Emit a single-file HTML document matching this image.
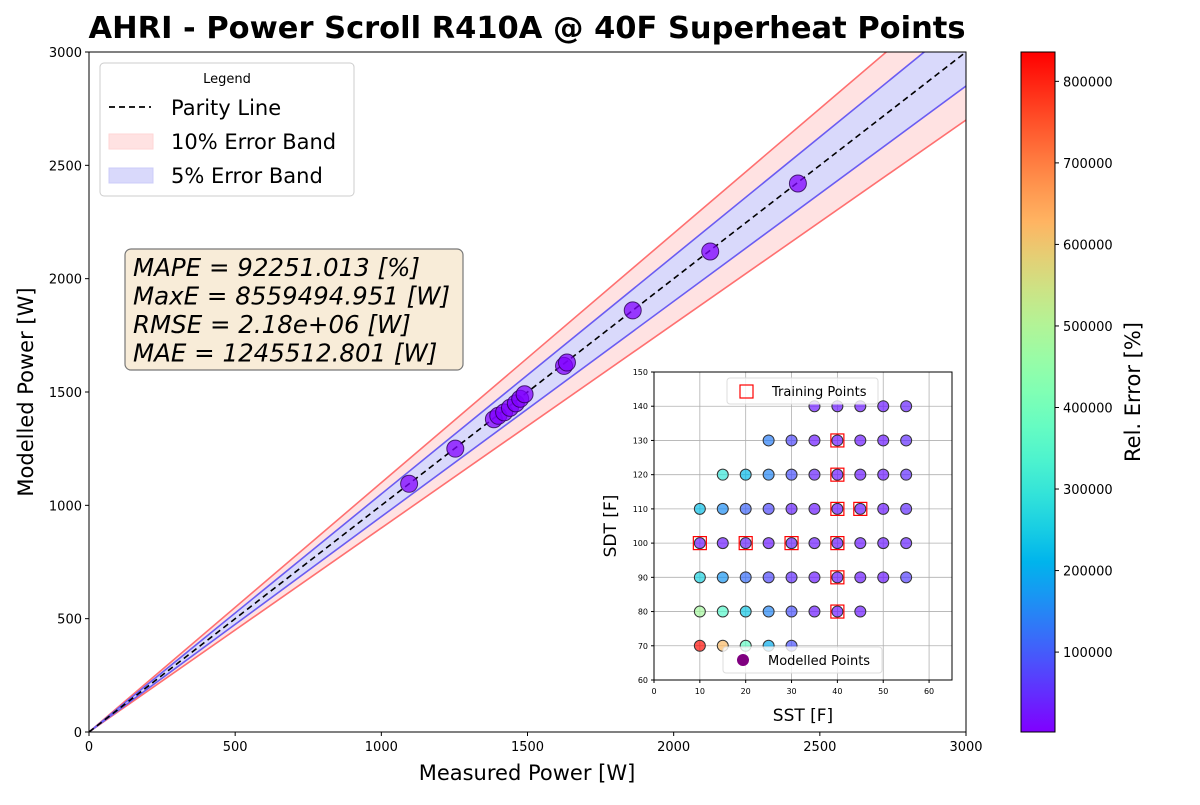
<!DOCTYPE html>
<html><head><meta charset="utf-8"><style>
body{margin:0;background:#fff}
svg{font-family:"DejaVu Sans","Liberation Sans",sans-serif}
</style></head><body>
<svg id="c" width="1200" height="800" xmlns="http://www.w3.org/2000/svg"></svg>
<script>
const measured=[1095,1253,1385,1400,1420,1440,1460,1475,1490,1625,1635,1860,2125,2425];
const modelled=[1095,1250,1380,1395,1410,1430,1450,1470,1490,1615,1630,1860,2120,2420];
const mainTicks=[0,500,1000,1500,2000,2500,3000];
const gridSST=[35,40,45,50,55, 25,30,35,40,45,50,55, 15,20,25,30,35,40,45,50,55, 10,15,20,25,30,35,40,45,50,55, 10,15,20,25,30,35,40,45,50,55, 10,15,20,25,30,35,40,45,50,55, 10,15,20,25,30,35,40,45, 10,15,20,25,30];
const gridSDT=[140,140,140,140,140, 130,130,130,130,130,130,130, 120,120,120,120,120,120,120,120,120, 110,110,110,110,110,110,110,110,110,110, 100,100,100,100,100,100,100,100,100,100, 90,90,90,90,90,90,90,90,90,90, 80,80,80,80,80,80,80,80, 70,70,70,70,70];
const relErr=[30000,30000,30000,30000,40000, 140000,80000,30000,30000,30000,30000,50000, 300000,220000,150000,90000,40000,30000,30000,30000,50000, 230000,160000,110000,80000,40000,30000,30000,30000,30000,50000, 30000,30000,40000,30000,40000,30000,30000,30000,30000,40000, 260000,170000,120000,80000,50000,30000,30000,30000,30000,70000, 480000,350000,240000,150000,90000,30000,30000,30000, 820000,620000,370000,200000,90000];
const trainSST=[40,40,40,45,10,20,30,40,40,40];
const trainSDT=[130,120,110,110,100,100,100,100,90,80];
const cbTicks=[100000,200000,300000,400000,500000,600000,700000,800000];
const insetXTicks=[0,10,20,30,40,50,60];
const insetYTicks=[60,70,80,90,100,110,120,130,140,150];
const vmin=2000,vmax=836000;

const S=document.getElementById('c');const NS='http://www.w3.org/2000/svg';
function mk(t,a,p){const e=document.createElementNS(NS,t);for(const k in a)e.setAttribute(k,a[k]);(p||S).appendChild(e);return e;}
function tx(x,y,s,a,p){const e=mk('text',Object.assign({x:x,y:y},a),p);e.textContent=s;return e;}
function rainbow(v){let x=(v-vmin)/(vmax-vmin);x=Math.max(0,Math.min(1,x));
 const r=Math.min(1,Math.abs(2*x-0.5)),g=Math.sin(Math.PI*x),b=Math.cos(Math.PI*x/2);
 return `rgb(${Math.round(r*255)},${Math.round(g*255)},${Math.round(b*255)})`;}
const X0=89,X1=966,Y0=732,Y1=52;
const mx=v=>X0+(X1-X0)*v/3000, my=v=>Y0-(Y0-Y1)*v/3000;

let e=tx(527,38,'AHRI - Power Scroll R410A @ 40F Superheat Points',{'font-size':30.5,'font-weight':'bold','text-anchor':'middle','textLength':877,'lengthAdjust':'spacingAndGlyphs'});

const defs=mk('defs',{});const cp=mk('clipPath',{id:'pc'},defs);mk('rect',{x:X0,y:Y1,width:X1-X0,height:Y0-Y1},cp);
const g=mk('g',{'clip-path':'url(#pc)'});
const strip=(f1,f2,fill,name)=>{e=mk('polygon',{points:`${mx(0)},${my(0)} ${mx(3000)},${my(3000*(1+f1))} ${mx(3000)},${my(3000*(1+f2))}`,fill:fill},g);
 };
strip(0.1,0.05,'#ffe2e2','error-band-10-upper');
strip(-0.05,-0.1,'#ffe2e2','error-band-10-lower');
strip(0.05,-0.05,'#d9d9fb','error-band-5');
[[0.1,'#ff7070'],[-0.1,'#ff7070'],[0.05,'#6a5cf2'],[-0.05,'#6a5cf2']].forEach(([f,c])=>{
 e=mk('line',{x1:mx(0),y1:my(0),x2:mx(3000),y2:my(3000*(1+f)),stroke:c,'stroke-width':1.6},g);
 });
e=mk('line',{x1:mx(0),y1:my(0),x2:mx(3000),y2:my(3000),stroke:'#000','stroke-width':1.6,'stroke-dasharray':'6,4'},g);

measured.forEach((m,i)=>{e=mk('circle',{cx:mx(m),cy:my(modelled[i]),r:8.5,fill:'rgba(128,0,255,0.75)',stroke:'rgba(40,0,80,0.8)','stroke-width':1},g);
 });
mk('rect',{x:X0,y:Y1,width:X1-X0,height:Y0-Y1,fill:'none',stroke:'#000','stroke-width':1});
mainTicks.forEach(t=>{mk('line',{x1:mx(t),x2:mx(t),y1:Y0,y2:Y0+4,stroke:'#000'});
 e=tx(mx(t),Y0+19,t,{'font-size':13,'text-anchor':'middle'});
 mk('line',{x1:X0-4,x2:X0,y1:my(t),y2:my(t),stroke:'#000'});
 e=tx(X0-7,my(t)+5,t,{'font-size':13,'text-anchor':'end'});});
e=tx(527,780,'Measured Power [W]',{'font-size':21,'text-anchor':'middle'});
e=tx(33,392,'Modelled Power [W]',{'font-size':21,'text-anchor':'middle',transform:'rotate(-90 33 392)'});

const L=mk('g',{});
mk('rect',{x:100,y:63,width:254,height:133,rx:4,fill:'#fff',stroke:'#ccc'},L);
tx(227,83,'Legend',{'font-size':13,'text-anchor':'middle'},L);
mk('line',{x1:109,x2:151,y1:107,y2:107,stroke:'#000','stroke-width':1.8,'stroke-dasharray':'6,4'},L);
tx(171,115,'Parity Line',{'font-size':21},L);
mk('rect',{x:109,y:134,width:44,height:15,fill:'#ffe2e2',stroke:'#ffd6d6'},L);
tx(171,149,'10% Error Band',{'font-size':21},L);
mk('rect',{x:109,y:168,width:44,height:15,fill:'#d9d9fb',stroke:'#ccccf8'},L);
tx(171,183,'5% Error Band',{'font-size':21},L);

const B=mk('g',{});
mk('rect',{x:125,y:249,width:338,height:121,rx:6,fill:'#f8ecd8',stroke:'#777','stroke-width':1.2},B);
['MAPE = 92251.013 [%]','MaxE = 8559494.951 [W]','RMSE = 2.18e+06 [W]','MAE = 1245512.801 [W]'].forEach((s,i)=>
 tx(133,276+i*28.5,s,{'font-size':24.5,'font-style':'italic'},B));

const IX0=654,IX1=952,IY0=680,IY1=372;
const ix=v=>IX0+(IX1-IX0)*v/65, iy=v=>IY0-(IY0-IY1)*(v-60)/90;
const I=mk('g',{});
mk('rect',{x:IX0,y:IY1,width:IX1-IX0,height:IY0-IY1,fill:'#fff'},I);
insetXTicks.forEach(t=>{mk('line',{x1:ix(t),x2:ix(t),y1:IY1,y2:IY0,stroke:'#b0b0b0','stroke-width':0.8},I);
 mk('line',{x1:ix(t),x2:ix(t),y1:IY0,y2:IY0+3,stroke:'#000'},I);
 tx(ix(t),IY0+14,t,{'font-size':8,'text-anchor':'middle'},I);});
insetYTicks.forEach(t=>{mk('line',{x1:IX0,x2:IX1,y1:iy(t),y2:iy(t),stroke:'#b0b0b0','stroke-width':0.8},I);
 mk('line',{x1:IX0-3,x2:IX0,y1:iy(t),y2:iy(t),stroke:'#000'},I);
 tx(IX0-6,iy(t)+3,t,{'font-size':8,'text-anchor':'end'},I);});
gridSST.forEach((s,i)=>{e=mk('circle',{cx:ix(s),cy:iy(gridSDT[i]),r:5.5,fill:rainbow(relErr[i]),'fill-opacity':0.7,stroke:'#333','stroke-width':1},I);
 });
trainSST.forEach((s,i)=>{e=mk('rect',{x:ix(s)-6.5,y:iy(trainSDT[i])-6.5,width:13,height:13,fill:'none',stroke:'red','stroke-width':1.2},I);
 });
mk('rect',{x:IX0,y:IY1,width:IX1-IX0,height:IY0-IY1,fill:'none',stroke:'#000'},I);
mk('rect',{x:727,y:378,width:151,height:26,rx:3,fill:'rgba(255,255,255,0.8)',stroke:'#ddd'},I);
mk('rect',{x:740,y:385,width:13,height:13,fill:'none',stroke:'red','stroke-width':1.2},I);
tx(772,396,'Training Points',{'font-size':13},I);
mk('rect',{x:723,y:647,width:159,height:26,rx:3,fill:'rgba(255,255,255,0.8)',stroke:'#ddd'},I);
mk('circle',{cx:743,cy:660,r:6,fill:'#800080'},I);
tx(768,665,'Modelled Points',{'font-size':13},I);
tx(803,721,'SST [F]',{'font-size':17,'text-anchor':'middle'},I);
tx(616,526,'SDT [F]',{'font-size':17,'text-anchor':'middle',transform:'rotate(-90 616 526)'},I);

const CX=1021,CW=34;
const gr=mk('linearGradient',{id:'cb',x1:0,y1:1,x2:0,y2:0},defs);
for(let k=0;k<=20;k++){mk('stop',{offset:k/20,'stop-color':rainbow(vmin+(vmax-vmin)*k/20)},gr);}
e=mk('rect',{x:CX,y:Y1,width:CW,height:Y0-Y1,fill:'url(#cb)',stroke:'#000'});

const cy=v=>Y0-(Y0-Y1)*(v-vmin)/(vmax-vmin);
cbTicks.forEach(t=>{mk('line',{x1:CX+CW,x2:CX+CW+4,y1:cy(t),y2:cy(t),stroke:'#000'});
 e=tx(CX+CW+8,cy(t)+5,t,{'font-size':13});});
e=tx(1140,392,'Rel. Error [%]',{'font-size':21,'text-anchor':'middle',transform:'rotate(-90 1140 392)'});

</script>
</body></html>
